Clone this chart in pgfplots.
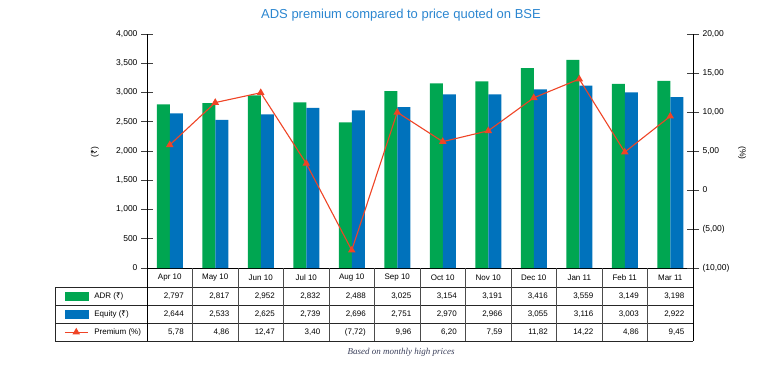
\documentclass[border=0pt]{standalone}
\usepackage{pgfplots}
\pgfplotsset{compat=1.18}
\usepackage{fontspec}
\setmainfont{Liberation Sans}
\newfontfamily\rupeefont{Noto Sans}
\newfontfamily\capfont{Liberation Serif}
\newcommand{\rs}{{\rupeefont ₹}}
\definecolor{adrgreen}{HTML}{00A651}
\definecolor{eqblue}{HTML}{0072BC}
\definecolor{premred}{HTML}{EF4426}
\definecolor{titleblue}{HTML}{2B86D0}
\definecolor{capcol}{HTML}{3A3F5A}
\pgfplotsset{
  wideline legend/.style={legend image code/.code={\draw[mark repeat=2,mark phase=2,##1] plot coordinates {(0pt,0pt) (11.5pt,0pt) (23pt,0pt)};}},
  greenbox legend/.style={legend image code/.code={\fill[adrgreen] (0pt,-4pt) rectangle (23pt,4pt);}},
  bluebox legend/.style={legend image code/.code={\fill[eqblue] (0pt,-4pt) rectangle (23pt,4pt);}},
}
\begin{document}
\begin{tikzpicture}[x=1pt,y=1pt]
\path[use as bounding box] (0,0) rectangle (767,368);
\begin{axis}[
  at={(147pt,100pt)}, anchor=south west,
  scale only axis, width=546pt, height=234pt,
  xmin=-0.5, xmax=11.5, ymin=0, ymax=4000,
  axis x line*=bottom, axis y line*=left,
  axis line style={black, line width=0.9pt, -},
  xtick=\empty,
  ytick={0,500,...,4000},
  yticklabels={0,500,{1,000},{1,500},{2,000},{2,500},{3,000},{3,500},{4,000}},
  tick align=center, major tick length=12pt,
  ytick style={black!75, line width=0.9pt},
  yticklabel style={font=\fontsize{8.5}{10}\selectfont},
  ybar=0pt, bar width=13pt,
  clip=false,
]
\addplot[fill=adrgreen, draw=none] coordinates {(0,2797) (1,2817) (2,2952) (3,2832) (4,2488) (5,3025) (6,3154) (7,3191) (8,3416) (9,3559) (10,3149) (11,3198)};
\addplot[fill=eqblue, draw=none] coordinates {(0,2644) (1,2533) (2,2625) (3,2739) (4,2696) (5,2751) (6,2970) (7,2966) (8,3055) (9,3116) (10,3003) (11,2922)};
\end{axis}
\begin{axis}[
  at={(147pt,100pt)}, anchor=south west,
  scale only axis, width=546pt, height=234pt,
  xmin=-0.5, xmax=11.5, ymin=-10, ymax=20,
  axis x line=none, axis y line*=right,
  axis line style={black, line width=0.9pt, -},
  ytick={-10,-5,...,20},
  yticklabels={{(10,00)},{(5,00)},0,{5,00},{10,00},{15,00},{20,00}},
  tick align=center, major tick length=12pt,
  ytick style={black!75, line width=0.9pt},
  yticklabel style={font=\fontsize{8.5}{10}\selectfont},
  clip=false,
  legend style={at={(-0.152,-0.0812)}, anchor=north west, draw=none, fill=none,
    inner sep=0pt, font=\fontsize{8}{9.6}\selectfont, row sep=0pt,
    nodes={inner sep=0pt, minimum height=18pt},
    /tikz/every odd column/.append style={column sep=6pt}},
  legend cell align=left,
]
\addlegendimage{greenbox legend}
\addlegendentry{ADR (\rs)}
\addlegendimage{bluebox legend}
\addlegendentry{Equity (\rs)}
\addplot[premred, line width=1.1pt, mark=triangle*, mark size=3.3pt, wideline legend]
  coordinates {(0,5.78) (1,11.21) (2,12.47) (3,3.40) (4,-7.72) (5,9.96) (6,6.20) (7,7.59) (8,11.82) (9,14.22) (10,4.86) (11,9.45)};
\addlegendentry{Premium (\%)}
\end{axis}
% table grid
\draw[black!85, line width=0.8pt] (55,81) -- (693,81);
\draw[black!85, line width=0.8pt] (55,63) -- (693,63);
\draw[black!85, line width=0.8pt] (55,45) -- (693,45);
\draw[black!85, line width=0.8pt] (55,27) -- (693,27);
\draw[black!85, line width=0.8pt] (55,81) -- (55,27);
\draw[black, line width=0.9pt] (147,100) -- (147,27);
\draw[black, line width=0.9pt] (693,100) -- (693,27);
\foreach \i in {1,...,11} {\draw[black!70, line width=0.8pt] (147+45.5*\i,100) -- (147+45.5*\i,27);}
% category labels
\foreach \lab [count=\i from 0] in {Apr 10,May 10,Jun 10,Jul 10,Aug 10,Sep 10,Oct 10,Nov 10,Dec 10,Jan 11,Feb 11,Mar 11}
  {\node[font=\fontsize{8}{9.6}\selectfont, inner sep=0pt] at (147+45.5*\i+22.75,90) {\lab};}
% table values
\foreach \v [count=\i from 0] in {{2,797},{2,817},{2,952},{2,832},{2,488},{3,025},{3,154},{3,191},{3,416},{3,559},{3,149},{3,198}}
  {\node[font=\fontsize{8}{9.6}\selectfont, inner sep=0pt, anchor=east] at (147+45.5*\i+37,72) {\v};}
\foreach \v [count=\i from 0] in {{2,644},{2,533},{2,625},{2,739},{2,696},{2,751},{2,970},{2,966},{3,055},{3,116},{3,003},{2,922}}
  {\node[font=\fontsize{8}{9.6}\selectfont, inner sep=0pt, anchor=east] at (147+45.5*\i+37,54) {\v};}
\foreach \v [count=\i from 0] in {{5,78},{4,86},{12,47},{3,40},{(7,72)},{9,96},{6,20},{7,59},{11,82},{14,22},{4,86},{9,45}}
  {\node[font=\fontsize{8}{9.6}\selectfont, inner sep=0pt, anchor=east] at (147+45.5*\i+37,36) {\v};}
% axis titles
\node[rotate=90, font=\fontsize{8.5}{10}\selectfont] at (95,216) {(\rs)};
\node[rotate=-90, font=\fontsize{8.5}{10}\selectfont] at (742,215) {(\%)};
% title and caption
\node[font=\fontsize{13}{15}\selectfont, text=titleblue] at (401,353) {ADS premium compared to price quoted on BSE};
\node[font=\capfont\itshape\fontsize{9}{11}\selectfont, text=capcol] at (401,16) {Based on monthly high prices};
\end{tikzpicture}
\end{document}
